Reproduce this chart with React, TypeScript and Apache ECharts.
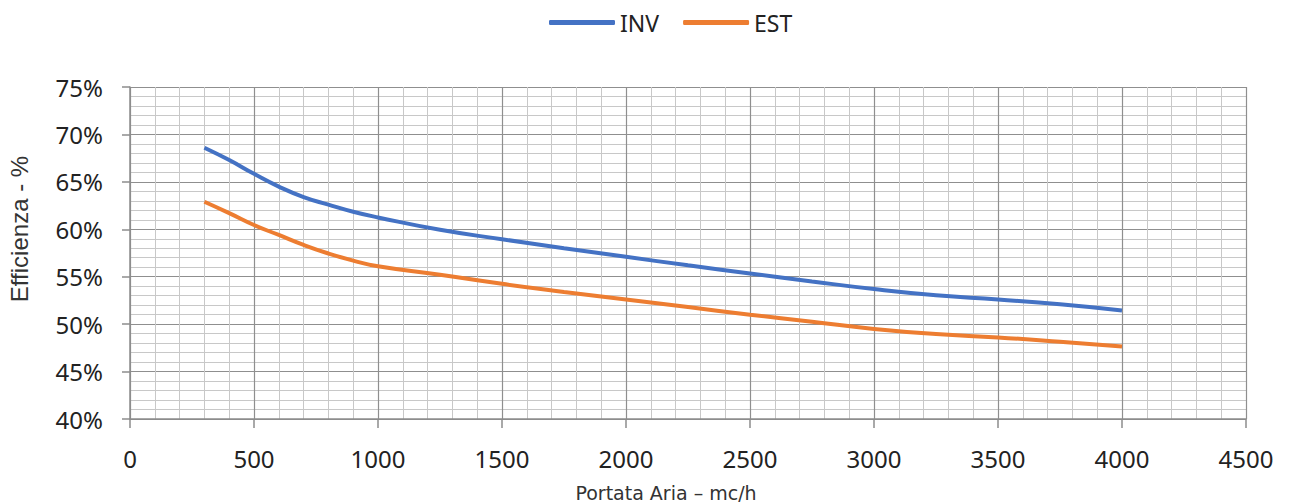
import React, { useEffect, useRef } from "react";
import * as echarts from "echarts";

const flowValues = [300, 400, 500, 600, 700, 800, 900, 1000, 1250, 1500, 1750, 2000, 2250, 2500, 2750, 3000, 3250, 3500, 3750, 4000];
const invValues = [68.6, 67.3, 65.85, 64.5, 63.4, 62.6, 61.85, 61.25, 59.95, 58.95, 58.0, 57.1, 56.2, 55.35, 54.5, 53.7, 53.05, 52.6, 52.1, 51.45];
const estValues = [62.9, 61.7, 60.45, 59.4, 58.35, 57.45, 56.7, 56.1, 55.2, 54.25, 53.4, 52.6, 51.8, 51.0, 50.25, 49.5, 48.95, 48.6, 48.15, 47.65];
const legendNames = ["INV", "EST"];
const xAxisTitle = "Portata Aria – mc/h";
const yAxisTitle = "Efficienza - %";

const FONT = "'Noto Sans', 'Open Sans', sans-serif";

export default function App() {
  const ref = useRef<HTMLDivElement>(null);
  useEffect(() => {
    if (!ref.current) return;
    const chart = echarts.init(ref.current, null, { renderer: "svg" });
    chart.setOption({
      animation: false,
      backgroundColor: "#ffffff",
      legend: {
        top: 6,
        left: 544,
        itemWidth: 66,
        itemHeight: 5,
        itemGap: 24,
        icon: "roundRect",
        textStyle: { fontSize: 23, color: "#222", fontFamily: FONT },
        data: legendNames,
      },
      graphic: [
        {
          type: "text",
          x: 666,
          y: 493,
          style: {
            text: xAxisTitle,
            fontSize: 19,
            fontFamily: "'DejaVu Sans', sans-serif",
            fill: "#333",
            textAlign: "center",
            textVerticalAlign: "middle",
          },
        },
        {
          type: "text",
          x: 19,
          y: 229,
          rotation: Math.PI / 2,
          style: {
            text: yAxisTitle,
            fontSize: 24,
            fontFamily: "'Liberation Sans', Arial, sans-serif",
            fill: "#333",
            textAlign: "center",
            textVerticalAlign: "middle",
          },
        },
      ],
      grid: { left: 130, right: 45, top: 87, bottom: 85 },
      xAxis: {
        type: "value",
        min: 0,
        max: 4500,
        interval: 500,
        axisLine: { show: true, lineStyle: { color: "#8c8c8c", width: 1.5 } },
        axisTick: { show: true, length: 9, lineStyle: { color: "#8c8c8c", width: 1.5 } },
        axisLabel: {
          fontSize: 24,
          color: "#222",
          margin: 27,
          fontFamily: FONT,
          formatter: (v: number) => String(v),
        },
        splitLine: { show: true, lineStyle: { color: "#8f8f8f", width: 1.2 } },
        minorTick: { show: false, splitNumber: 5 },
        minorSplitLine: { show: true, lineStyle: { color: "#c8c8c8", width: 1 } },
      },
      yAxis: {
        type: "value",
        min: 40,
        max: 75,
        interval: 5,
        axisLine: { show: true, lineStyle: { color: "#8c8c8c", width: 1.5 } },
        axisTick: { show: true, length: 8, lineStyle: { color: "#8c8c8c", width: 1.5 } },
        axisLabel: { fontSize: 24, color: "#222", margin: 27, formatter: "{value}%", fontFamily: FONT },
        splitLine: { show: true, lineStyle: { color: "#8f8f8f", width: 1.2 } },
        minorTick: { show: false, splitNumber: 5 },
        minorSplitLine: { show: true, lineStyle: { color: "#c8c8c8", width: 1 } },
      },
      series: [
        {
          name: "INV",
          type: "line",
          smooth: 0.5,
          showSymbol: false,
          symbol: "none",
          data: flowValues.map((x, i) => [x, invValues[i]]),
          lineStyle: { color: "#4472C4", width: 4 },
          itemStyle: { color: "#4472C4" },
        },
        {
          name: "EST",
          type: "line",
          smooth: 0.5,
          showSymbol: false,
          symbol: "none",
          data: flowValues.map((x, i) => [x, estValues[i]]),
          lineStyle: { color: "#ED7D31", width: 4 },
          itemStyle: { color: "#ED7D31" },
        },
      ],
    });
    return () => chart.dispose();
  }, []);
  return <div ref={ref} style={{ width: 1291, height: 504, position: "absolute", left: 0, top: 0 }} />;
}
